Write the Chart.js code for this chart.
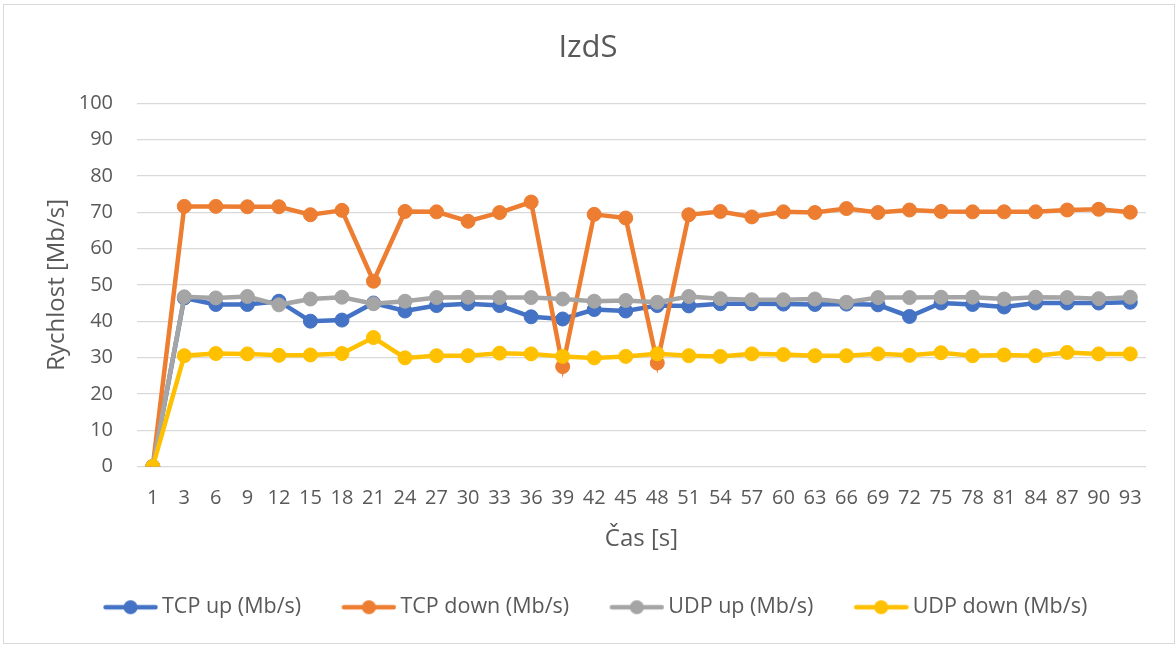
<!DOCTYPE html>
<html>
<head>
<meta charset="utf-8">
<script src="https://cdn.jsdelivr.net/npm/chart.js@4/dist/chart.umd.min.js"></script>
<style>
  html, body { margin: 0; padding: 0; background: #ffffff; }
  #wrap { width: 1176px; height: 646px; position: relative; }
</style>
</head>
<body>
<div id="wrap"><canvas id="c" width="1176" height="646"></canvas></div>
<script>
// Time samples [s]
const categories = ['1','3','6','9','12','15','18','21','24','27','30','33','36','39','42','45','48','51','54','57','60','63','66','69','72','75','78','81','84','87','90','93'];

// Measured throughput [Mb/s]
const tcpUp   = [0,46.4,44.6,44.6,45.5,40,40.3,45,42.8,44.3,44.8,44.3,41.2,40.6,43.2,42.8,44.3,44.2,44.8,44.8,44.7,44.6,44.7,44.5,41.3,45,44.6,43.9,45,45,45,45.2];
const tcpDown = [0,71.6,71.6,71.5,71.5,69.3,70.5,51,70.2,70.1,67.5,69.9,72.8,27.5,69.4,68.4,28.5,69.3,70.2,68.7,70.1,69.9,71,69.9,70.6,70.2,70.1,70.1,70.1,70.6,70.8,70];
const udpUp   = [0,46.7,46.4,46.8,44.5,46.1,46.6,44.8,45.5,46.5,46.6,46.5,46.5,46.1,45.5,45.7,45.2,46.8,46.2,45.9,45.9,46.1,45.2,46.5,46.5,46.6,46.6,46.1,46.6,46.5,46.2,46.6];
const udpDown = [0,30.5,31.1,31,30.6,30.7,31.1,35.5,29.9,30.5,30.5,31.2,31,30.3,29.9,30.3,31,30.5,30.3,31,30.8,30.5,30.5,31,30.6,31.3,30.5,30.7,30.5,31.4,31,31];

const seriesNames = ['TCP up (Mb/s)', 'TCP down (Mb/s)', 'UDP up (Mb/s)', 'UDP down (Mb/s)'];
const seriesColors = ['#4472C4', '#ED7D31', '#A5A5A5', '#FFC000'];
const seriesValues = [tcpUp, tcpDown, udpUp, udpDown];

const FONT = "'Open Sans', 'Liberation Sans', sans-serif";
const TEXT = '#595959';

// Legend swatch: a short line with a marker in the middle.
// The canvas carries a blank strip on the left so the swatch sits close to its text.
function legendSwatch(color) {
  const c = document.createElement('canvas');
  c.width = 62; c.height = 16;
  const g = c.getContext('2d');
  g.strokeStyle = color;
  g.lineWidth = 4.5;
  g.lineCap = 'round';
  g.beginPath(); g.moveTo(9.5, 8); g.lineTo(59.5, 8); g.stroke();
  g.fillStyle = color;
  g.beginPath(); g.arc(34.5, 8, 7, 0, Math.PI * 2); g.fill();
  return c;
}

const datasets = seriesNames.map((name, i) => ({
  label: name,
  data: seriesValues[i],
  borderColor: seriesColors[i],
  backgroundColor: seriesColors[i],
  borderWidth: 4.5,
  pointRadius: 7,
  pointHoverRadius: 7,
  pointBorderWidth: 1,
  pointBorderColor: seriesColors[i],
  pointBackgroundColor: seriesColors[i],
  pointStyle: 'circle',
  tension: 0,
  fill: false,
  order: seriesNames.length - i,
  swatch: legendSwatch(seriesColors[i])
}));

// White background and thin outer frame
const frame = {
  id: 'frame',
  beforeDraw(chart) {
    const ctx = chart.ctx;
    ctx.save();
    ctx.fillStyle = '#ffffff';
    ctx.fillRect(0, 0, chart.width, chart.height);
    ctx.strokeStyle = '#d9d9d9';
    ctx.lineWidth = 1;
    ctx.strokeRect(3.5, 4.5, 1171, 639);
    ctx.restore();
  }
};

// Nudge the legend row slightly to the right of the plot centre
const legendShift = {
  id: 'legendShift',
  afterLayout(chart) {
    const lg = chart.legend;
    if (lg) { lg.left += 7; lg.right += 7; }
  }
};

new Chart(document.getElementById('c'), {
  type: 'line',
  data: { labels: categories, datasets },
  plugins: [frame, legendShift],
  options: {
    responsive: false,
    animation: false,
    layout: { padding: { left: 30, right: 30, top: 0, bottom: 18 } },
    plugins: {
      title: {
        display: true,
        text: 'IzdS',
        color: TEXT,
        font: { family: FONT, size: 31, weight: 'normal' },
        padding: { top: 29.5, bottom: 36.5 }
      },
      legend: {
        position: 'bottom',
        labels: {
          color: TEXT,
          font: { family: FONT, size: 21.5 },
          usePointStyle: true,
          pointStyleWidth: 48.5,
          padding: 40,
          sort: (a, b) => a.datasetIndex - b.datasetIndex,
          generateLabels(chart) {
            return chart.data.datasets.map((ds, i) => ({
              text: ds.label,
              fillStyle: ds.backgroundColor,
              strokeStyle: ds.borderColor,
              lineWidth: 0,
              pointStyle: ds.swatch,
              fontColor: TEXT,
              hidden: false,
              datasetIndex: i
            }));
          }
        }
      },
      tooltip: { enabled: false }
    },
    scales: {
      x: {
        type: 'category',
        offset: true,
        grid: { display: false, drawTicks: false },
        border: { display: false },
        ticks: {
          color: TEXT,
          font: { family: FONT, size: 20 },
          padding: 20,
          maxRotation: 0,
          autoSkip: false
        },
        title: {
          display: true,
          text: 'Čas [s]',
          color: TEXT,
          font: { family: FONT, size: 24 },
          padding: { top: 4, bottom: 3 }
        },
        afterFit(scale) { scale.height = 90; }
      },
      y: {
        min: 0,
        max: 100,
        grid: { color: '#d9d9d9', lineWidth: 1.3, drawTicks: false },
        border: { display: false },
        ticks: {
          stepSize: 10,
          color: TEXT,
          font: { family: FONT, size: 20 },
          padding: 24
        },
        title: {
          display: true,
          text: 'Rychlost [Mb/s]',
          color: TEXT,
          font: { family: FONT, size: 24 },
          padding: { top: 13, bottom: 4 }
        },
        afterFit(scale) { scale.width = 107; }
      }
    }
  }
});
</script>
</body>
</html>
